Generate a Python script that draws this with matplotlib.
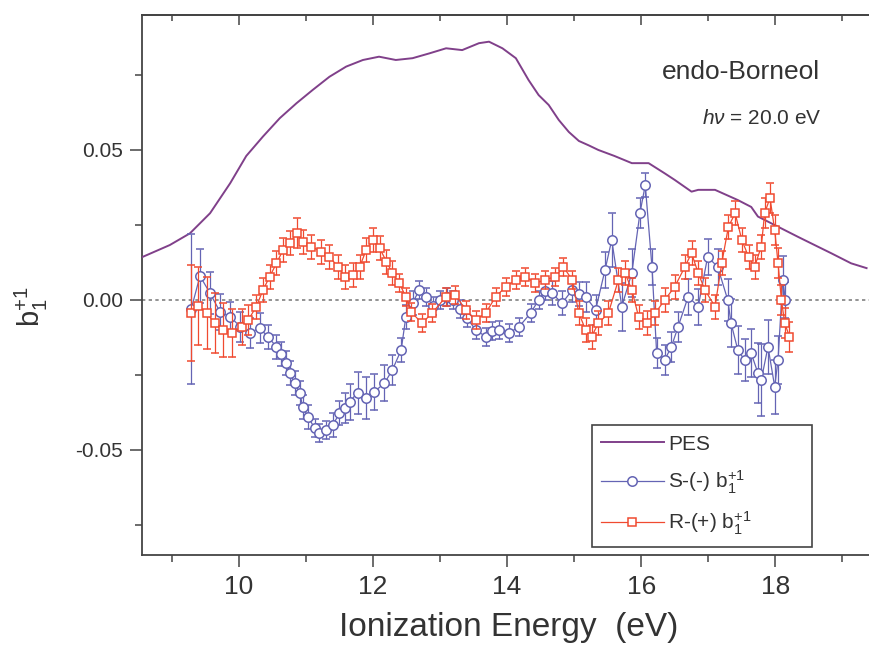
import matplotlib
matplotlib.use("Agg")
import matplotlib.pyplot as plt
from matplotlib.lines import Line2D
from matplotlib.ticker import MultipleLocator, FormatStrFormatter

plt.rcParams['font.family'] = ['Liberation Sans', 'DejaVu Sans']
plt.rcParams['mathtext.fontset'] = 'custom'
plt.rcParams['mathtext.rm'] = 'Liberation Sans'
plt.rcParams['mathtext.it'] = 'Liberation Sans:italic'
plt.rcParams['axes.unicode_minus'] = False

# photoelectron spectrum (scaled onto the b1 axis)
pes_x = [8.55, 8.97, 9.27, 9.57, 9.87, 10.11, 10.36, 10.61, 10.86, 11.10, 11.35, 11.60,
         11.85, 12.09, 12.34, 12.59, 12.84, 13.09, 13.33, 13.58, 13.73, 13.93, 14.13,
         14.32, 14.47, 14.62, 14.77, 14.92, 15.07, 15.22, 15.36, 15.60, 15.86, 16.11,
         16.35, 16.50, 16.75, 16.85, 17.10, 17.44, 17.64, 17.74, 18.04, 18.34, 18.63,
         18.83, 19.13, 19.36]
pes_y = [0.0142, 0.0183, 0.0222, 0.0289, 0.0389, 0.0480, 0.0545, 0.0606, 0.0656, 0.0700,
         0.0744, 0.0778, 0.0800, 0.0811, 0.0800, 0.0806, 0.0822, 0.0839, 0.0833, 0.0856,
         0.0861, 0.0839, 0.0806, 0.0733, 0.0683, 0.0650, 0.0600, 0.0560, 0.0530, 0.0515,
         0.0500, 0.0480, 0.0456, 0.0456, 0.0422, 0.0400, 0.0361, 0.0367, 0.0367, 0.0333,
         0.0310, 0.0278, 0.0244, 0.0210, 0.0178, 0.0156, 0.0122, 0.0106]

# S-(-) enantiomer
s_x = [9.29, 9.42, 9.57, 9.72, 9.87, 10.02, 10.16, 10.31, 10.43, 10.56, 10.63, 10.71,
       10.76, 10.83, 10.91, 10.95, 11.03, 11.13, 11.20, 11.30, 11.40, 11.50, 11.58, 11.65,
       11.77, 11.90, 12.02, 12.17, 12.29, 12.42, 12.49, 12.59, 12.69, 12.79, 12.90, 13.00,
       13.10, 13.20, 13.30, 13.40, 13.53, 13.68, 13.78, 13.88, 14.03, 14.18, 14.35, 14.47,
       14.57, 14.67, 14.82, 14.97, 15.07, 15.17, 15.32, 15.46, 15.56, 15.71, 15.86, 15.98,
       16.06, 16.16, 16.23, 16.35, 16.45, 16.55, 16.70, 16.85, 16.99, 17.14, 17.29, 17.34,
       17.44, 17.54, 17.64, 17.74, 17.79, 17.89, 17.99, 18.04, 18.11, 18.15]
s_y = [-0.0030, 0.0080, 0.0022, -0.0040, -0.0056, -0.0089, -0.0110, -0.0094, -0.0122,
       -0.0156, -0.0180, -0.0210, -0.0244, -0.0278, -0.0310, -0.0356, -0.0389, -0.0428,
       -0.0444, -0.0433, -0.0417, -0.0378, -0.0360, -0.0339, -0.0310, -0.0328, -0.0306,
       -0.0278, -0.0233, -0.0167, -0.0056, -0.0010, 0.0033, 0.0011, -0.0020, 0.0000,
       0.0010, 0.0000, -0.0030, -0.0060, -0.0100, -0.0122, -0.0105, -0.0100, -0.0110,
       -0.0089, -0.0044, 0.0000, 0.0030, 0.0022, -0.0011, 0.0033, 0.0020, 0.0011, -0.0033,
       0.0100, 0.0200, -0.0022, 0.0090, 0.0289, 0.0383, 0.0110, -0.0178, -0.0200, -0.0156,
       -0.0089, 0.0011, -0.0022, 0.0144, 0.0110, 0.0000, -0.0078, -0.0167, -0.0200, -0.0178,
       -0.0244, -0.0267, -0.0156, -0.0289, -0.0200, 0.0067, 0.0000]
s_err = [0.025, 0.009, 0.007, 0.006, 0.005, 0.005, 0.005, 0.005, 0.004, 0.004, 0.004, 0.004,
         0.004, 0.004, 0.004, 0.004, 0.004, 0.003, 0.003, 0.003, 0.004, 0.004, 0.005, 0.006,
         0.007, 0.007, 0.006, 0.006, 0.005, 0.004, 0.004, 0.004, 0.003, 0.003, 0.003, 0.003,
         0.003, 0.003, 0.003, 0.003, 0.003, 0.003, 0.003, 0.003, 0.003, 0.003, 0.003, 0.003,
         0.003, 0.004, 0.004, 0.004, 0.004, 0.005, 0.005, 0.006, 0.009, 0.008, 0.008, 0.005,
         0.004, 0.006, 0.005, 0.005, 0.005, 0.005, 0.006, 0.006, 0.006, 0.006, 0.007, 0.008,
         0.008, 0.007, 0.008, 0.010, 0.012, 0.009, 0.009, 0.008, 0.008, 0.006]

# R-(+) enantiomer
r_x = [9.29, 9.39, 9.52, 9.64, 9.77, 9.89, 10.04, 10.14, 10.26, 10.36, 10.46, 10.56, 10.66,
       10.76, 10.86, 10.96, 11.08, 11.23, 11.35, 11.48, 11.58, 11.70, 11.80, 11.90, 12.00,
       12.10, 12.20, 12.29, 12.39, 12.49, 12.57, 12.73, 12.88, 13.09, 13.23, 13.38, 13.53,
       13.68, 13.83, 13.98, 14.13, 14.27, 14.42, 14.57, 14.72, 14.84, 14.97, 15.07, 15.17,
       15.26, 15.36, 15.51, 15.66, 15.76, 15.86, 15.96, 16.08, 16.21, 16.35, 16.50, 16.65,
       16.75, 16.85, 16.95, 17.10, 17.20, 17.30, 17.40, 17.50, 17.60, 17.69, 17.79, 17.84,
       17.92, 17.99, 18.04, 18.09, 18.14, 18.21]
r_y = [-0.0044, -0.0020, -0.0044, -0.0078, -0.0100, -0.0111, -0.0089, -0.0067, -0.0022,
       0.0033, 0.0078, 0.0122, 0.0167, 0.0189, 0.0222, 0.0194, 0.0178, 0.0161, 0.0144,
       0.0110, 0.0078, 0.0083, 0.0110, 0.0167, 0.0200, 0.0172, 0.0128, 0.0089, 0.0056,
       0.0011, -0.0040, -0.0078, -0.0044, 0.0011, 0.0017, -0.0033, -0.0067, -0.0044, 0.0011,
       0.0044, 0.0067, 0.0078, 0.0056, 0.0067, 0.0078, 0.0110, 0.0067, -0.0044, -0.0100,
       -0.0122, -0.0078, -0.0044, 0.0067, 0.0089, 0.0033, -0.0056, -0.0078, -0.0044, 0.0000,
       0.0044, 0.0110, 0.0156, 0.0089, 0.0033, -0.0022, 0.0122, 0.0244, 0.0289, 0.0200,
       0.0144, 0.0110, 0.0178, 0.0289, 0.0340, 0.0233, 0.0122, 0.0000, -0.0078, -0.0122]
r_err = [0.016, 0.013, 0.012, 0.010, 0.009, 0.008, 0.006, 0.005, 0.004, 0.004, 0.004, 0.004,
         0.004, 0.004, 0.005, 0.004, 0.004, 0.004, 0.004, 0.004, 0.004, 0.004, 0.004, 0.004,
         0.004, 0.004, 0.004, 0.004, 0.003, 0.003, 0.003, 0.003, 0.003, 0.003, 0.003, 0.003,
         0.003, 0.003, 0.003, 0.003, 0.003, 0.003, 0.003, 0.003, 0.003, 0.003, 0.003, 0.004,
         0.004, 0.004, 0.004, 0.004, 0.004, 0.004, 0.004, 0.004, 0.004, 0.004, 0.004, 0.004,
         0.004, 0.004, 0.004, 0.004, 0.004, 0.004, 0.004, 0.004, 0.004, 0.004, 0.004, 0.004,
         0.005, 0.005, 0.005, 0.005, 0.005, 0.005, 0.005]

pes_color = '#80408a'
s_color = '#6464b4'
r_color = '#f04a30'

fig = plt.figure(figsize=(8.69, 6.52), dpi=100)
ax = fig.add_axes([0.163, 0.149, 0.845, 0.828])

ax.axhline(0, color='#808080', lw=1.2, ls=(0, (2, 2)), zorder=1)
ax.plot(pes_x, pes_y, color=pes_color, lw=1.4, zorder=3)
ax.errorbar(s_x, s_y, yerr=s_err, color=s_color, lw=0.9, elinewidth=0.9, capsize=3,
            marker='o', ms=6.8, mfc='white', mec=s_color, mew=1.1, zorder=4)
ax.errorbar(r_x, r_y, yerr=r_err, color=r_color, lw=0.9, elinewidth=0.9, capsize=3,
            marker='s', ms=6.0, mfc='white', mec=r_color, mew=1.1, zorder=5)

ax.set_xlim(8.55, 19.5)
ax.set_ylim(-0.085, 0.095)
ax.xaxis.set_major_locator(MultipleLocator(2))
ax.xaxis.set_minor_locator(MultipleLocator(1))
ax.yaxis.set_major_locator(MultipleLocator(0.05))
ax.yaxis.set_minor_locator(MultipleLocator(0.025))
ax.yaxis.set_major_formatter(FormatStrFormatter('%.2f'))

spine_c = '#444444'
for s in ax.spines.values():
    s.set_color(spine_c)
    s.set_linewidth(1.3)
ax.tick_params(which='both', direction='out', color=spine_c, width=1.1)
ax.tick_params(which='major', length=8.5)
ax.tick_params(which='minor', length=5)
ax.tick_params(axis='x', labelsize=19, pad=6, labelcolor='#333333')
ax.tick_params(axis='y', labelsize=15, pad=5, labelcolor='#333333')

top = ax.secondary_xaxis('top')
top.xaxis.set_major_locator(MultipleLocator(2))
top.xaxis.set_minor_locator(MultipleLocator(1))
top.tick_params(which='both', direction='in', color=spine_c, width=1.1, labeltop=False)
top.tick_params(which='major', length=7)
top.tick_params(which='minor', length=4)
top.spines['top'].set_color(spine_c)
top.spines['top'].set_linewidth(1.3)

ax.set_xlabel('Ionization Energy  (eV)', fontsize=24, color='#333333')
ax.xaxis.set_label_coords(0.5, -0.105)
ax.set_ylabel(r'$\mathregular{b_1^{+1}}$', fontsize=21, color='#333333')
ax.yaxis.set_label_coords(-0.125, 0.46)

ax.text(0.924, 0.894, 'endo-Borneol', transform=ax.transAxes, ha='right', va='center',
        fontsize=19, color='#333333')
ax.text(0.926, 0.809, r'$\mathit{h\nu}$ = 20.0 eV', transform=ax.transAxes, ha='right',
        va='center', fontsize=15, color='#333333')

handles = [
    Line2D([], [], color=pes_color, lw=1.4),
    Line2D([], [], color=s_color, lw=0.9, marker='o', ms=6.8, mfc='white', mec=s_color, mew=1.1),
    Line2D([], [], color=r_color, lw=0.9, marker='s', ms=6.0, mfc='white', mec=r_color, mew=1.1),
]
labels = ['PES', r'S-(-) $\mathregular{b_1^{+1}}$', r'R-(+) $\mathregular{b_1^{+1}}$']
leg = ax.legend(handles, labels, loc='lower left', bbox_to_anchor=(0.613, 0.0148, 0.30, 0.25),
                mode='expand', fontsize=15, frameon=True, fancybox=False,
                edgecolor=spine_c, framealpha=1, handlelength=3.0, handletextpad=0.2,
                labelspacing=0.7, borderpad=0.45, borderaxespad=0)
leg.get_frame().set_linewidth(1.2)
for t in leg.get_texts():
    t.set_color('#333333')

fig.savefig('out.png', dpi=100)
